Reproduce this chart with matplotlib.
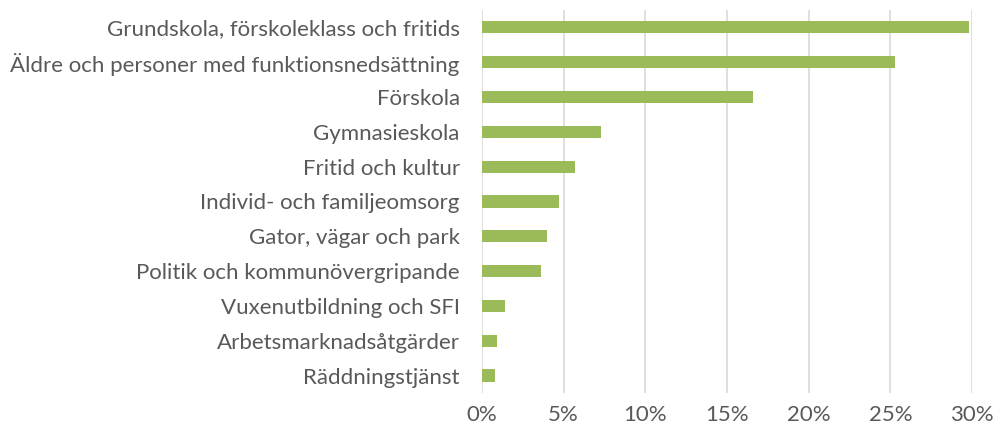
import matplotlib.pyplot as plt
from matplotlib.ticker import PercentFormatter

# Andel per verksamhet
kategorier = [
    'Grundskola, förskoleklass och fritids',
    'Äldre och personer med funktionsnedsättning',
    'Förskola',
    'Gymnasieskola',
    'Fritid och kultur',
    'Individ- och familjeomsorg',
    'Gator, vägar och park',
    'Politik och kommunövergripande',
    'Vuxenutbildning och SFI',
    'Arbetsmarknadsåtgärder',
    'Räddningstjänst',
]
andel = [29.8, 25.3, 16.6, 7.3, 5.7, 4.7, 4.0, 3.6, 1.4, 0.9, 0.8]
xticks = [0, 5, 10, 15, 20, 25, 30]

plt.rcParams['font.family'] = ['Lato', 'DejaVu Sans']

fig = plt.figure(figsize=(9.96, 4.32), dpi=100)
ax = fig.add_axes([0.4839, 0.0903, 0.4920, 0.8866])

y = list(range(len(kategorier)))
ax.barh(y, andel, height=0.35, color='#9BBB59', zorder=3)

ax.set_xlim(0, 30)
ax.set_ylim(len(kategorier) - 0.5, -0.5)
ax.set_yticks(y)
ax.set_yticklabels(kategorier)
ax.set_xticks(xticks)
ax.xaxis.set_major_formatter(PercentFormatter(decimals=0))

ax.grid(axis='x', color='#D9D9D9', linewidth=1.2, zorder=0)
for s in ax.spines.values():
    s.set_visible(False)
ax.tick_params(axis='both', length=0, labelsize=16, colors='#595959')
ax.tick_params(axis='y', pad=16)
ax.tick_params(axis='x', pad=9)

fig.savefig('out.png', dpi=100)
